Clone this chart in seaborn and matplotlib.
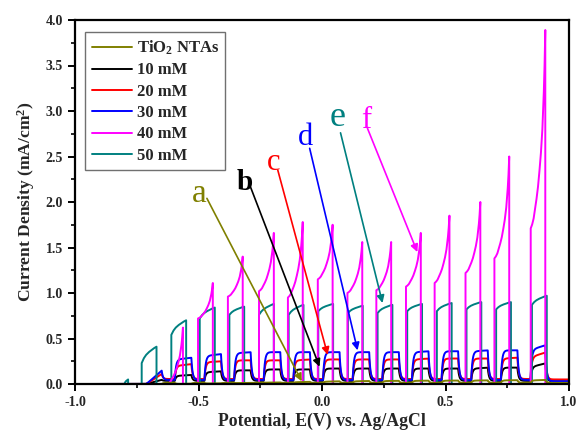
import numpy as np
import pandas as pd
import matplotlib
matplotlib.use("Agg")
import matplotlib.pyplot as plt
import seaborn as sns
from matplotlib.ticker import MultipleLocator, FormatStrFormatter

# ---------------- data ----------------
labels = ["TiO$_2$ NTAs", "10 mM", "20 mM", "30 mM", "40 mM", "50 mM"]
colors = ["#808000", "#000000", "#FF0000", "#0000FF", "#FF00FF", "#008080"]

# light-on windows (V) of the slowly responding curves (TiO2, 10, 20, 30 mM)
slow_on = [-0.715, -0.595, -0.475, -0.355, -0.235, -0.115, 0.005, 0.125,
           0.245, 0.365, 0.485, 0.605, 0.725, 0.845]
slow_off = [-0.648, -0.528, -0.408, -0.288, -0.168, -0.048, 0.072, 0.192,
            0.312, 0.432, 0.552, 0.672, 0.792, 0.905]

tio2_start = [0.0, 0.0, 0.005, 0.01, 0.015, 0.02, 0.026, 0.03, 0.033, 0.035, 0.037, 0.038, 0.04, 0.04]
tio2_end = [0.0, 0.004, 0.008, 0.012, 0.018, 0.024, 0.03, 0.033, 0.035, 0.037, 0.038, 0.04, 0.042, 0.045]
mm10_start = [0.0, 0.09, 0.13, 0.15, 0.16, 0.16, 0.17, 0.17, 0.17, 0.17, 0.17, 0.17, 0.18, 0.19]
mm10_end = [0.05, 0.10, 0.14, 0.15, 0.16, 0.16, 0.17, 0.17, 0.17, 0.17, 0.17, 0.18, 0.18, 0.23]
mm20_start = [0.0, 0.20, 0.24, 0.26, 0.26, 0.26, 0.27, 0.27, 0.27, 0.27, 0.28, 0.28, 0.28, 0.30]
mm20_end = [0.12, 0.22, 0.25, 0.26, 0.26, 0.27, 0.27, 0.27, 0.27, 0.28, 0.28, 0.28, 0.29, 0.35]
mm30_start = [0.0, 0.27, 0.31, 0.34, 0.35, 0.35, 0.35, 0.35, 0.35, 0.35, 0.36, 0.36, 0.37, 0.38]
mm30_end = [0.16, 0.29, 0.33, 0.35, 0.35, 0.35, 0.35, 0.35, 0.35, 0.36, 0.36, 0.37, 0.37, 0.43]
dark_level = {"TiO$_2$ NTAs": 0.012, "10 mM": 0.035, "20 mM": 0.055, "30 mM": 0.045}
final_level = {"TiO$_2$ NTAs": 0.012, "10 mM": 0.03, "20 mM": 0.05, "30 mM": 0.03}

# 40 mM: spiky transients
mm40_on = [-0.625, -0.502, -0.381, -0.255, -0.138, -0.017, 0.103, 0.220,
           0.340, 0.456, 0.581, 0.698, 0.845]
mm40_off = [-0.563, -0.442, -0.321, -0.195, -0.078, 0.043, 0.163, 0.280,
            0.400, 0.516, 0.641, 0.758, 0.904]
mm40_jump = [0.0, 0.72, 0.96, 1.02, 0.95, 1.15, 1.0, 1.03, 1.07, 1.11, 1.22, 1.38, 1.71]
mm40_peak = [0.62, 1.11, 1.40, 1.66, 1.78, 1.75, 1.56, 1.56, 1.66, 1.85, 2.0, 2.5, 3.89]
spike_t = [0.0, 0.1, 0.2, 0.3, 0.4, 0.5, 0.6, 0.7, 0.8, 0.9, 0.95, 1.0]
spike_f = [0.0, 0.02, 0.05, 0.10, 0.15, 0.21, 0.29, 0.38, 0.50, 0.69, 0.82, 1.0]

# 50 mM
mm50_on = [-0.800, -0.730, -0.610, -0.495, -0.375, -0.255, -0.135, -0.015,
           0.105, 0.225, 0.345, 0.465, 0.585, 0.705, 0.850]
mm50_off = [-0.785, -0.670, -0.550, -0.434, -0.315, -0.195, -0.075, 0.045,
            0.165, 0.285, 0.405, 0.525, 0.645, 0.765, 0.910]
mm50_jump = [0.0, 0.23, 0.54, 0.72, 0.76, 0.76, 0.76, 0.80, 0.78, 0.78, 0.80, 0.80, 0.82, 0.82, 0.87]
mm50_peak = [0.05, 0.41, 0.70, 0.84, 0.85, 0.88, 0.87, 0.88, 0.86, 0.87, 0.88, 0.89, 0.90, 0.90, 0.97]
flat_t = [0.0, 0.15, 0.3, 0.5, 0.7, 0.85, 1.0]
flat_f = [0.0, 0.30, 0.50, 0.68, 0.82, 0.92, 1.0]

# annotation letters: (letter, colour, text x, text baseline y, line start, arrow tip, size, weight)
notes = [
    ("a", "#808000", -0.495, 2.00, (-0.466, 2.04), (-0.082, 0.03), 24, "normal"),
    ("b", "#000000", -0.313, 2.13, (-0.293, 2.19), (-0.010, 0.19), 21, "bold"),
    ("c", "#FF0000", -0.196, 2.35, (-0.179, 2.35), (0.023, 0.32), 22, "normal"),
    ("d", "#0000FF", -0.066, 2.63, (-0.050, 2.59), (0.144, 0.37), 22, "normal"),
    ("e", "#008080", 0.063, 2.83, (0.075, 2.76), (0.245, 0.89), 26, "normal"),
    ("f", "#FF00FF", 0.180, 2.81, (0.184, 2.81), (0.386, 1.45), 22, "normal"),
]

# ---------------- build traces ----------------
E = np.round(np.arange(-1.0, 1.00001, 0.001), 4)


def chopped(on, off, a_lv, b_lv, dark, final, tau=0.005):
    target = np.zeros_like(E)
    for i, (s, e, a, b) in enumerate(zip(on, off, a_lv, b_lv)):
        m = (E >= s) & (E < e)
        target[m] = a + (b - a) * (E[m] - s) / (e - s)
        nxt = on[i + 1] if i + 1 < len(on) else 1.01
        m2 = (E >= e) & (E < nxt)
        target[m2] = dark if i + 1 < len(on) else final
    y = np.empty_like(target)
    alpha = 1 - np.exp(-0.001 / tau)
    y[0] = target[0]
    for k in range(1, len(E)):
        y[k] = y[k - 1] + alpha * (target[k] - y[k - 1])
    return E.copy(), y


def pulses(on, off, jump, peak, tt, ff):
    xs, ys = [-1.0], [0.0]
    for s, e, j, p in zip(on, off, jump, peak):
        xs.append(s); ys.append(0.0)
        for t, f in zip(tt, ff):
            xs.append(s + t * (e - s)); ys.append(j + f * (p - j))
        xs.append(e); ys.append(0.0)
    xs.append(1.0); ys.append(0.0)
    return np.array(xs), np.array(ys)


traces = {
    labels[0]: chopped(slow_on, slow_off, tio2_start, tio2_end, dark_level[labels[0]], final_level[labels[0]]),
    labels[1]: chopped(slow_on, slow_off, mm10_start, mm10_end, dark_level[labels[1]], final_level[labels[1]]),
    labels[2]: chopped(slow_on, slow_off, mm20_start, mm20_end, dark_level[labels[2]], final_level[labels[2]]),
    labels[3]: chopped(slow_on, slow_off, mm30_start, mm30_end, dark_level[labels[3]], final_level[labels[3]]),
    labels[4]: pulses(mm40_on, mm40_off, mm40_jump, mm40_peak, spike_t, spike_f),
    labels[5]: pulses(mm50_on, mm50_off, mm50_jump, mm50_peak, flat_t, flat_f),
}

frames = []
for name in labels:
    x, y = traces[name]
    frames.append(pd.DataFrame({"E": x, "J": y, "series": name}))
df = pd.concat(frames, ignore_index=True)

# ---------------- plot ----------------
sns.set_theme(style="ticks")
plt.rcParams["font.family"] = ["Liberation Serif", "DejaVu Serif"]
plt.rcParams["mathtext.fontset"] = "custom"
plt.rcParams["mathtext.rm"] = "Liberation Serif:bold"
plt.rcParams["mathtext.bf"] = "Liberation Serif:bold"
plt.rcParams["mathtext.it"] = "Liberation Serif:italic:bold"

fig = plt.figure(figsize=(5.77, 4.34), dpi=100)
ax = fig.add_axes([75 / 577, 1 - 384 / 434, 494 / 577, 364 / 434])

pal = dict(zip(labels, colors))
draw_order = [labels[1], labels[2], labels[3], labels[5], labels[4], labels[0]]
for z, name in enumerate(draw_order):
    sub = df[df["series"] == name]
    sns.lineplot(data=sub, x="E", y="J", color=pal[name], estimator=None, sort=False,
                 lw=1.4, ax=ax, label=name, zorder=3 + z)

h, l = ax.get_legend_handles_labels()
hmap = dict(zip(l, h))
leg = ax.legend([hmap[n] for n in labels], labels, loc="upper left",
                bbox_to_anchor=(0.02, 0.967), borderaxespad=0, frameon=True,
                fancybox=False, edgecolor="#707070", framealpha=1,
                prop={"family": "Liberation Serif", "weight": "bold", "size": 12},
                handlelength=2.4, handletextpad=0.3, labelspacing=0.32,
                borderpad=0.4)
leg.get_frame().set_linewidth(1.0)
leg.set_zorder(20)

for letter, col, tx, ty, p0, p1, fs, fw in notes:
    ax.text(tx, ty, letter, color=col, fontsize=fs, fontweight=fw, ha="center",
            va="baseline", family="Liberation Serif", zorder=15)
    ax.annotate("", xy=p1, xytext=p0,
                arrowprops=dict(arrowstyle="-|>", color=col, lw=1.2,
                                shrinkA=0, shrinkB=0, mutation_scale=11),
                zorder=15)

ax.set_xlim(-1.0, 1.0)
ax.set_ylim(0.0, 4.0)
ax.xaxis.set_major_locator(MultipleLocator(0.5))
ax.xaxis.set_minor_locator(MultipleLocator(0.25))
ax.yaxis.set_major_locator(MultipleLocator(0.5))
ax.yaxis.set_minor_locator(MultipleLocator(0.25))
ax.xaxis.set_major_formatter(FormatStrFormatter("%.1f"))
ax.yaxis.set_major_formatter(FormatStrFormatter("%.1f"))
ax.tick_params(which="major", direction="out", length=5, width=1.4,
               labelsize=10, top=False, right=False, color="black")
ax.tick_params(which="minor", direction="out", length=3, width=1.2,
               top=False, right=False, color="black")
for lab in ax.get_xticklabels() + ax.get_yticklabels():
    lab.set_fontweight("bold")
    lab.set_family("Liberation Serif")
for sp in ax.spines.values():
    sp.set_linewidth(1.6)
    sp.set_color("black")
    sp.set_visible(True)
    sp.set_zorder(25)

ax.set_xlabel("Potential, E(V) vs. Ag/AgCl", fontsize=12.8, fontweight="bold",
              family="Liberation Serif", labelpad=3)
ax.set_ylabel("Current Density (mA/cm$^2$)", fontsize=12.6, fontweight="bold",
              family="Liberation Serif", labelpad=6)
ax.set_facecolor("white")
fig.patch.set_facecolor("white")

fig.savefig("out.png", dpi=100, facecolor="white")
